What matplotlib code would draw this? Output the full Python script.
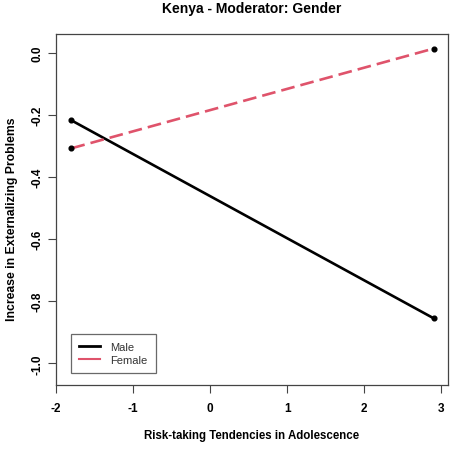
import matplotlib
matplotlib.use("Agg")
import matplotlib.pyplot as plt
from matplotlib.lines import Line2D

plt.rcParams["font.family"] = ["Liberation Sans", "DejaVu Sans"]

X_LEVELS = [-1.8, 2.9]
MALE = [-0.218, -0.855]
FEMALE = [-0.308, 0.013]
SERIES = ["Male", "Female"]
X_TICKS = [-2, -1, 0, 1, 2, 3]
Y_TICKS = [0.0, -0.2, -0.4, -0.6, -0.8, -1.0]

BLACK = "#000000"
RED = "#DF536B"
LW = 1.9

fig = plt.figure(figsize=(4.58, 4.56), dpi=100)
ax = fig.add_axes([56 / 458, 1 - 386 / 456, 392 / 458, 351 / 456])

ax.plot(X_LEVELS, MALE, color=BLACK, linewidth=LW, solid_capstyle="butt", zorder=2)
ax.plot(X_LEVELS, FEMALE, color=RED, linewidth=LW, linestyle=(0, (5.2, 2.3)), zorder=2)
ax.plot(X_LEVELS, MALE, "o", color=BLACK, markersize=3.4, zorder=3)
ax.plot(X_LEVELS, FEMALE, "o", color=BLACK, markersize=3.4, zorder=3)

ax.set_xlim(-1.988, 3.088)
ax.set_ylim(-1.07, 0.06)
ax.set_xticks(X_TICKS)
ax.set_xticklabels([str(t) for t in X_TICKS], fontsize=8.5, fontweight="bold")
ax.set_yticks(Y_TICKS)
ax.set_yticklabels([f"{t:.1f}" for t in Y_TICKS], fontsize=8.5, fontweight="bold",
                   rotation=90, va="center")
ax.tick_params(direction="out", length=6, width=0.8, color="#444444", pad=6)
ax.tick_params(axis="y", pad=3)
for s in ax.spines.values():
    s.set_color("#444444")
    s.set_linewidth(0.9)

ax.set_xlabel("Risk-taking Tendencies in Adolescence", fontsize=8.3, fontweight="bold", labelpad=11)
ax.set_ylabel("Increase in Externalizing Problems", fontsize=8.8, fontweight="bold")
ax.yaxis.set_label_coords(-0.098, 0.476)
ax.set_title("Kenya - Moderator: Gender", fontsize=10, fontweight="bold", pad=16)

handles = [Line2D([], [], color=BLACK, linewidth=2.0),
           Line2D([], [], color=RED, linewidth=1.5)]
leg = ax.legend(handles, SERIES, loc="lower left", bbox_to_anchor=(0.038, 0.033),
                fontsize=8, frameon=True, fancybox=False, edgecolor="#444444",
                handlelength=1.9, handletextpad=0.9, borderpad=0.75, labelspacing=0.28,
                borderaxespad=0)
leg.get_frame().set_linewidth(0.9)
for t in leg.get_texts():
    t.set_color("#333333")

fig.savefig("out.png", dpi=100)
